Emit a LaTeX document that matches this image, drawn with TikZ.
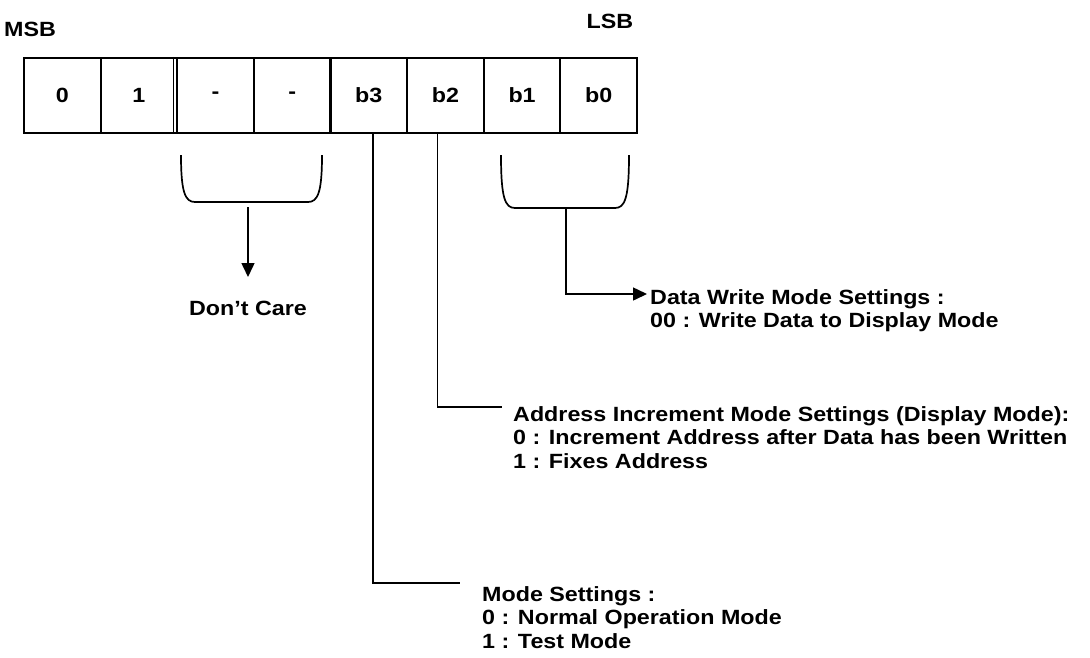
\documentclass[tikz,border=0pt]{standalone}
\usepackage{fontspec}
\setmainfont{Liberation Sans}[FakeStretch=1.13, BoldFeatures={FakeStretch=1.13}]
\usetikzlibrary{arrows.meta,calc}
\begin{document}
\begin{tikzpicture}[x=1pt,y=-1pt,
  txt/.style={font=\fontsize{20.6}{23.5}\selectfont\bfseries, inner sep=0pt},
  desc/.style={txt, align=left, anchor=north west},
  cell/.style={txt, draw, line width=2.1pt, minimum width=76.6pt, minimum height=75pt},
  conn/.style={line width=1.5pt},
  arr/.style={conn, -{Triangle[length=14pt,width=13pt]}},
  bracestyle/.style={line width=1.7pt}]
\useasboundingbox (0,0) rectangle (1090,657);

\node[txt] (msb) at (30,29) {MSB};
\node[txt] (lsb) at (610,21) {LSB};

\node[cell] (c0) at (62.3,95.5) {0};
\node[cell] (c1) at (138.9,95.5) {1};
\node[cell] (c2) at (215.6,95.5) {-};
\node[cell] (c3) at (292.2,95.5) {-};
\node[cell] (c4) at (368.8,95.5) {b3};
\node[cell] (c5) at (445.4,95.5) {b2};
\node[cell] (c6) at (522.1,95.5) {b1};
\node[cell] (c7) at (598.7,95.5) {b0};
\draw[line width=1.4pt] ($(c2.north west)+(-3,0)$) -- ($(c2.south west)+(-3,0)$);

% brackets
\draw[bracestyle] (181,155) .. controls (181,192) and (185,202) .. (195,202) -- (308,202) .. controls (318,202) and (322,192) .. (322,155);
\draw[bracestyle] (501,155) .. controls (501,198) and (505,208) .. (515,208) -- (615,208) .. controls (625,208) and (629,198) .. (629,155);

\coordinate (lbs) at (248,207);
\coordinate (dctip) at (248,277);
\coordinate (rbs) at (566,208);

\node[txt] (dc) at (248,308) {Don’t Care};
\draw[arr] (lbs) -- (dctip);

\node[desc] (dw) at (650,289) {Data Write Mode Settings :\\00 : Write Data to Display Mode};
\draw[arr] (rbs) |- ($(dw.north west)+(-3,5)$);

\node[desc] (addr) at (513,406) {Address Increment Mode Settings (Display Mode):\\0 : Increment Address after Data has been Written\\1 : Fixes Address};
\draw[conn] ($(c5.south)+(-8,0)$) |- ($(addr.north west)+(-11,1)$);

\node[desc] (mode) at (482,586) {Mode Settings :\\0 : Normal Operation Mode\\1 : Test Mode};
\draw[conn] ($(c4.south)+(4,0)$) |- ($(mode.north west)+(-22,-3)$);
\end{tikzpicture}
\end{document}
